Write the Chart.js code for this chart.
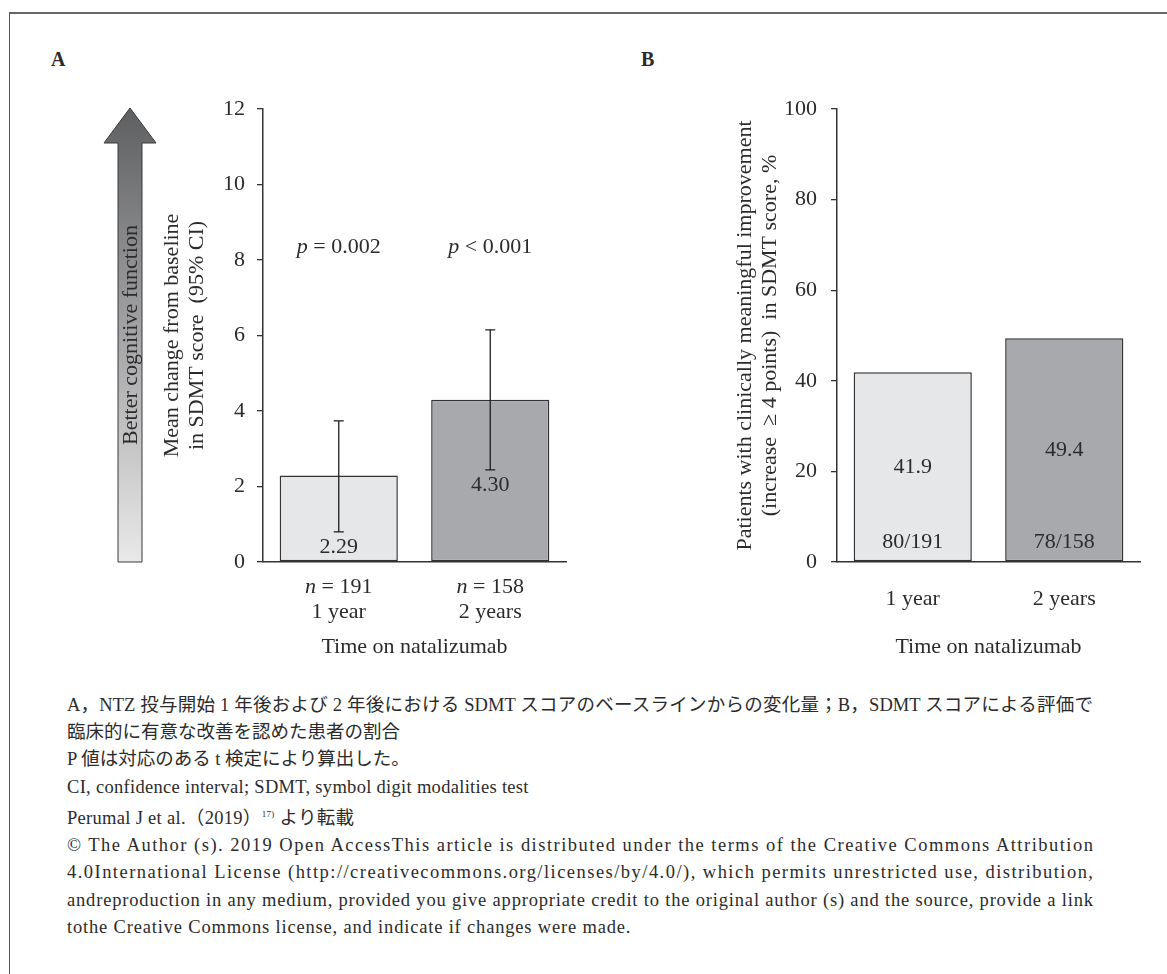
<!DOCTYPE html>
<html>
<head>
<meta charset="utf-8">
<script src="https://cdn.jsdelivr.net/npm/chart.js@4.4.0/dist/chart.umd.min.js"></script>
<style>
  body { margin: 0; background: #fff; width: 1167px; height: 974px; position: relative; overflow: hidden;
         font-family: "Liberation Serif", "Noto Sans CJK JP", serif; color: #2b2b2b; }
  .frame { position: absolute; left: 9px; top: 12px; width: 1170px; height: 980px;
           border-left: 1.5px solid #555; border-top: 2px solid #666; }
  .tag { position: absolute; top: 48px; font-weight: bold; font-size: 20px; }
  .panel { position: absolute; top: 60px; height: 620px; }
  #panelA { left: 100px; width: 490px; }
  #panelB { left: 690px; width: 470px; }
  .caption { position: absolute; left: 67px; top: 692px; width: 1026px; font-size: 18.5px; line-height: 27.2px; }
  .caption div { white-space: nowrap; }
  .caption .j { text-align: justify; text-align-last: justify; white-space: normal; }
  .caption .wide { letter-spacing: 0.3px; }
</style>
</head>
<body>
<div class="frame"></div>
<div class="tag" style="left:51px">A</div>
<div class="tag" style="left:641px">B</div>
<div class="panel" id="panelA"><canvas id="chartA" width="490" height="620"></canvas></div>
<div class="panel" id="panelB"><canvas id="chartB" width="470" height="620"></canvas></div>

<div class="caption">
  <div class="j">A，NTZ 投与開始 1 年後および 2 年後における SDMT スコアのベースラインからの変化量；B，SDMT スコアによる評価で</div>
  <div>臨床的に有意な改善を認めた患者の割合</div>
  <div>P 値は対応のある t 検定により算出した。</div>
  <div class="wide">CI, confidence interval; SDMT, symbol digit modalities test</div>
  <div class="wide">Perumal J et al.（2019）<sup style="font-size:9px">17)</sup> より転載</div>
  <div class="fit"><span>© The Author (s). 2019 Open AccessThis article is distributed under the terms of the Creative Commons Attribution</span></div>
  <div class="fit"><span>4.0International License (http://creativecommons.org/licenses/by/4.0/), which permits unrestricted use, distribution,</span></div>
  <div class="fit"><span>andreproduction in any medium, provided you give appropriate credit to the original author (s) and the source, provide a link</span></div>
  <div class="fit last"><span>tothe Creative Commons license, and indicate if changes were made.</span></div>
</div>

<script>
// ---- data ----
const categories     = ['1 year', '2 years'];
const sampleSizes    = [191, 158];
const meanChange     = [2.29, 4.30];
const ciLower        = [0.80, 2.44];
const ciUpper        = [3.74, 6.15];
const pValues        = ['= 0.002', '< 0.001'];
const pctImproved    = [41.9, 49.4];
const improvedCounts = ['80/191', '78/158'];
const yTicksA        = [0, 2, 4, 6, 8, 10, 12];
const yTicksB        = [0, 20, 40, 60, 80, 100];

const SERIF = '"Liberation Serif", "Times New Roman", serif';
const INK   = '#2b2b2b';
const barFill   = ['#e6e7e8', '#a7a9ac'];
const barBorder = '#333';

// licence block: track the letters out so each line fills the caption width
(function fitLicence() {
  const full = 1026;
  let lastSpacing = 0;
  document.querySelectorAll('.caption .fit').forEach(div => {
    const span = div.querySelector('span');
    const n = span.textContent.length;
    if (div.classList.contains('last')) {
      span.style.letterSpacing = lastSpacing + 'px';
      return;
    }
    const w = span.getBoundingClientRect().width;
    lastSpacing = Math.max(0, (full - w) / (n - 1));
    span.style.letterSpacing = lastSpacing + 'px';
  });
})();

// draw "p = 0.002" style text with an italic leading letter, centred on x
function italicLead(ctx, lead, rest, x, y, size) {
  ctx.font = `italic ${size}px ${SERIF}`;
  const w1 = ctx.measureText(lead).width;
  ctx.font = `${size}px ${SERIF}`;
  const w2 = ctx.measureText(rest).width;
  const x0 = x - (w1 + w2) / 2;
  ctx.textAlign = 'left';
  ctx.textBaseline = 'middle';
  ctx.fillStyle = INK;
  ctx.font = `italic ${size}px ${SERIF}`;
  ctx.fillText(lead, x0, y);
  ctx.font = `${size}px ${SERIF}`;
  ctx.fillText(rest, x0 + w1, y);
}

function axisOptions(yTicks, axisWidth, titleLines, titlePad, tickPad, xTickPad) {
  return {
    responsive: false,
    animation: false,
    devicePixelRatio: 1,
    plugins: { legend: { display: false }, tooltip: { enabled: false } },
    scales: {
      x: {
        grid: { display: false, drawTicks: false },
        border: { display: true, color: '#333', width: 1.5 },
        ticks: { color: INK, padding: xTickPad, font: { family: SERIF, size: 22, lineHeight: 1.15 } },
        title: { display: true, text: 'Time on natalizumab', color: INK,
                 font: { family: SERIF, size: 22, lineHeight: 1.15 }, padding: { top: 0, bottom: 20 } },
        afterFit(scale) { scale.height = 118; }
      },
      y: {
        min: yTicks[0],
        max: yTicks[yTicks.length - 1],
        ticks: { stepSize: yTicks[1] - yTicks[0], color: INK, padding: tickPad,
                 font: { family: SERIF, size: 22 } },
        grid: { drawOnChartArea: false, drawTicks: true, tickLength: 6, color: '#333', lineWidth: 1.3 },
        border: { display: true, color: '#333', width: 1.5 },
        title: { display: true, text: titleLines, color: INK,
                 font: { family: SERIF, size: 22, lineHeight: 1.15 }, padding: { top: titlePad, bottom: 0 } },
        afterFit(scale) { scale.width = axisWidth; }
      }
    }
  };
}

// ---- panel A: mean change with 95% CI ----
const panelAPlugin = {
  id: 'panelAExtras',
  beforeDraw(chart) {
    const { ctx, chartArea } = chart;
    const cx = chartArea.left - 133;
    const top = chartArea.top - 1, bottom = chartArea.bottom;
    const headW = 26, shaftW = 12, headH = 35;
    const g = ctx.createLinearGradient(0, top, 0, bottom);
    g.addColorStop(0, '#5e5f61');
    g.addColorStop(1, '#e9e9ea');
    ctx.save();
    ctx.beginPath();
    ctx.moveTo(cx, top);
    ctx.lineTo(cx + headW, top + headH);
    ctx.lineTo(cx + shaftW, top + headH);
    ctx.lineTo(cx + shaftW, bottom);
    ctx.lineTo(cx - shaftW, bottom);
    ctx.lineTo(cx - shaftW, top + headH);
    ctx.lineTo(cx - headW, top + headH);
    ctx.closePath();
    ctx.fillStyle = g;
    ctx.fill();
    ctx.strokeStyle = '#3a3a3a';
    ctx.lineWidth = 1;
    ctx.stroke();
    ctx.translate(cx + 1, (top + bottom) / 2);
    ctx.rotate(-Math.PI / 2);
    ctx.fillStyle = INK;
    ctx.font = `22px ${SERIF}`;
    ctx.textAlign = 'center';
    ctx.textBaseline = 'middle';
    ctx.fillText('Better cognitive function', 0, 0);
    ctx.restore();
  },
  afterDatasetsDraw(chart) {
    const { ctx, chartArea, scales: { x, y } } = chart;
    ctx.save();
    meanChange.forEach((v, i) => {
      const cx = x.getPixelForValue(i);
      const hi = y.getPixelForValue(ciUpper[i]);
      const lo = y.getPixelForValue(ciLower[i]);
      ctx.strokeStyle = '#1e1e1e';
      ctx.lineWidth = 1.3;
      ctx.beginPath();
      ctx.moveTo(cx, hi); ctx.lineTo(cx, lo);
      ctx.moveTo(cx - 5, hi); ctx.lineTo(cx + 5, hi);
      ctx.moveTo(cx - 5, lo); ctx.lineTo(cx + 5, lo);
      ctx.stroke();

      ctx.fillStyle = INK;
      ctx.font = `22px ${SERIF}`;
      ctx.textAlign = 'center';
      ctx.textBaseline = 'middle';
      ctx.fillText(v.toFixed(2), cx, lo + 15);

      italicLead(ctx, 'p', ' ' + pValues[i], cx, y.getPixelForValue(8.35), 22);
      italicLead(ctx, 'n', ' = ' + sampleSizes[i], cx, chartArea.bottom + 25, 22);
    });
    ctx.restore();
  }
};

const optsA = axisOptions(yTicksA, 163, ['Mean change from baseline', 'in SDMT score  (95% CI)'], 59.5, 12, 12);
optsA.layout = { padding: { top: 49, right: 24, bottom: 0, left: 0 } };
optsA.scales.x.ticks.callback = (val, i) => ['', categories[i]];

new Chart(document.getElementById('chartA'), {
  type: 'bar',
  data: {
    labels: categories,
    datasets: [{
      data: meanChange,
      backgroundColor: barFill,
      borderColor: barBorder,
      borderWidth: 1.5,
      borderSkipped: false,
      barPercentage: 0.78,
      categoryPercentage: 1
    }]
  },
  options: optsA,
  plugins: [panelAPlugin]
});

// ---- panel B: % with clinically meaningful improvement ----
const panelBPlugin = {
  id: 'panelBExtras',
  afterDatasetsDraw(chart) {
    const { ctx, chartArea, scales: { x, y } } = chart;
    ctx.save();
    ctx.fillStyle = INK;
    ctx.font = `22px ${SERIF}`;
    ctx.textAlign = 'center';
    ctx.textBaseline = 'middle';
    pctImproved.forEach((v, i) => {
      const cx = x.getPixelForValue(i);
      ctx.fillText(v.toFixed(1), cx, y.getPixelForValue(v / 2));
      ctx.fillText(improvedCounts[i], cx, chartArea.bottom - 20);
    });
    ctx.restore();
  }
};

const optsB = axisOptions(yTicksB, 147,
  ['Patients with clinically meaningful improvement', '(increase  \u2265 4 points)  in SDMT score, %'], 42.5, 14, 25);
optsB.layout = { padding: { top: 49, right: 20, bottom: 0, left: 0 } };

new Chart(document.getElementById('chartB'), {
  type: 'bar',
  data: {
    labels: categories,
    datasets: [{
      data: pctImproved,
      backgroundColor: barFill,
      borderColor: barBorder,
      borderWidth: 1.5,
      borderSkipped: false,
      barPercentage: 0.78,
      categoryPercentage: 1
    }]
  },
  options: optsB,
  plugins: [panelBPlugin]
});
</script>
</body>
</html>
